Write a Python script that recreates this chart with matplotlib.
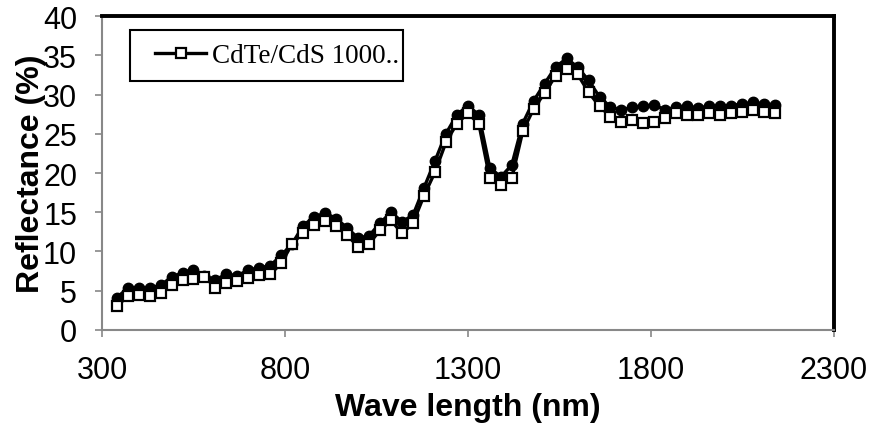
import matplotlib
matplotlib.use("Agg")
import matplotlib.pyplot as plt
from matplotlib.patches import Rectangle

# wavelength (nm)
wavelength = [340, 370, 400, 430, 460, 490, 520, 550, 580, 610,
              640, 670, 700, 730, 760, 790, 820, 850, 880, 910,
              940, 970, 1000, 1030, 1060, 1090, 1120, 1150, 1180, 1210,
              1240, 1270, 1300, 1330, 1360, 1390, 1420, 1450, 1480, 1510,
              1540, 1570, 1600, 1630, 1660, 1690, 1720, 1750, 1780, 1810,
              1840, 1870, 1900, 1930, 1960, 1990, 2020, 2050, 2080, 2110, 2140]

# filled circles series
refl_a = [4.1, 5.3, 5.4, 5.3, 5.7, 6.7, 7.3, 7.65, 6.9, 6.4,
          7.1, 6.9, 7.65, 7.9, 8.2, 9.5, 11.0, 13.3, 14.4, 14.9,
          14.2, 13.0, 11.7, 12.0, 13.6, 15.0, 13.8, 14.6, 18.1, 21.5,
          25.0, 27.4, 28.6, 27.4, 20.7, 19.5, 21.0, 26.3, 29.2, 31.4,
          33.5, 34.6, 33.5, 31.8, 29.7, 28.4, 28.0, 28.4, 28.5, 28.7,
          28.0, 28.4, 28.5, 28.3, 28.5, 28.5, 28.6, 28.8, 29.0, 28.8, 28.7]

# open squares series (CdTe/CdS 1000..)
refl_b = [3.0, 4.3, 4.4, 4.3, 4.7, 5.7, 6.3, 6.5, 6.8, 5.4,
          6.0, 6.2, 6.6, 7.0, 7.1, 8.5, 11.0, 12.4, 13.4, 13.9,
          13.2, 12.1, 10.6, 11.0, 12.7, 14.0, 12.3, 13.6, 17.1, 20.1,
          23.9, 26.3, 27.6, 26.3, 19.3, 18.5, 19.3, 25.3, 28.2, 30.2,
          32.4, 33.2, 32.6, 30.3, 28.5, 27.2, 26.5, 26.7, 26.4, 26.5,
          27.0, 27.6, 27.4, 27.4, 27.6, 27.4, 27.6, 27.8, 28.0, 27.8, 27.6]

legend_label = "CdTe/CdS 1000.."
x_ticks = [300, 800, 1300, 1800, 2300]
y_ticks = [0, 5, 10, 15, 20, 25, 30, 35, 40]

plt.rcParams['font.family'] = ['Liberation Sans', 'DejaVu Sans']

fig = plt.figure(figsize=(8.72, 4.27), dpi=100)
ax = fig.add_axes([0.117, 0.225, 0.839, 0.735])

ax.plot(wavelength, refl_a, color="black", lw=2.4, marker="o", ms=7.5,
        mfc="black", mec="black")
ax.plot(wavelength, refl_b, color="black", lw=2.4, marker="s", ms=6.5,
        mfc="white", mec="black", mew=1.6, label=legend_label)

ax.set_xlim(300, 2300)
ax.set_ylim(0, 40)
ax.set_xticks(x_ticks)
ax.set_yticks(y_ticks)

for side in ["left", "bottom"]:
    ax.spines[side].set_color("#888888")
    ax.spines[side].set_linewidth(1.5)
for side in ["top", "right"]:
    ax.spines[side].set_color("black")
    ax.spines[side].set_linewidth(2.8)

ax.tick_params(axis="both", direction="out", length=5, width=1.2,
               color="#888888", labelsize=22)
ax.tick_params(axis="x", pad=13)
ax.tick_params(axis="y", pad=13)

ax.set_xlabel("Wave length (nm)", fontsize=23, fontweight="bold", labelpad=5)
ax.set_ylabel("Reflectance (%)", fontsize=23, fontweight="bold")
ax.yaxis.set_label_coords(-0.077, 0.5)

# legend box drawn separately (Excel-like padding)
ax.add_patch(Rectangle((0.038, 0.793), 0.373, 0.162, transform=ax.transAxes,
                       fill=False, edgecolor="black", lw=1.5, zorder=5))
leg = ax.legend(loc="center left", bbox_to_anchor=(0.0724, 0.874),
                prop={"family": "Liberation Serif", "size": 19.5},
                frameon=False, handlelength=1.9,
                handletextpad=0.22, borderpad=0, borderaxespad=0)

fig.savefig("out.png", dpi=100)
